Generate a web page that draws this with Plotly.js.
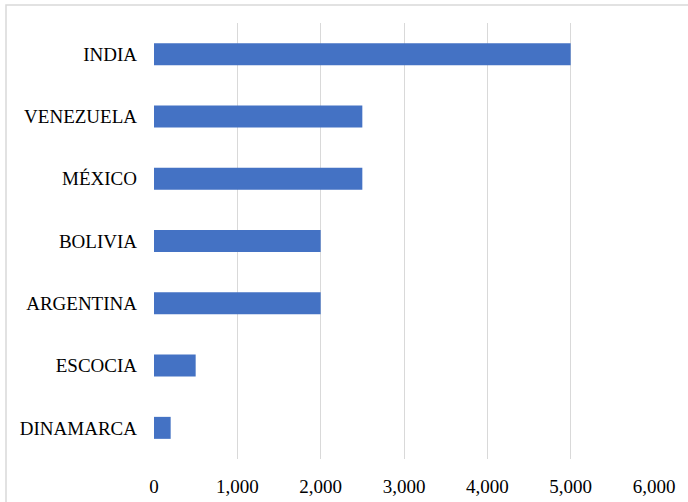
<!DOCTYPE html>
<html>
<head>
<meta charset="utf-8">
<script src="https://cdn.plot.ly/plotly-3.0.1.min.js"></script>
<style>html,body{margin:0;padding:0;background:#fff;}#chart{width:688px;height:502px;}</style>
</head>
<body>
<div id="chart"></div>
<script>
const countries = ["INDIA", "VENEZUELA", "MÉXICO", "BOLIVIA", "ARGENTINA", "ESCOCIA", "DINAMARCA"];
const values = [5000, 2500, 2500, 2000, 2000, 500, 200];
const xTicks = [0, 1000, 2000, 3000, 4000, 5000, 6000];
const xTickLabels = ["0", "1,000", "2,000", "3,000", "4,000", "5,000", "6,000"];

const font = {family: "'Liberation Serif', serif", size: 19, color: "#000"};

Plotly.newPlot("chart", [{
  type: "bar",
  orientation: "h",
  y: countries,
  x: values,
  marker: {color: "#4472C4"},
  hoverinfo: "x+y"
}], {
  width: 688, height: 502,
  margin: {l: 154, r: 34, t: 23, b: 43, pad: 0},
  paper_bgcolor: "#fff", plot_bgcolor: "#fff",
  font: font,
  bargap: 0.647,
  showlegend: false,
  xaxis: {
    range: [0, 6000],
    tickvals: xTicks, ticktext: xTickLabels,
    showgrid: true, gridcolor: "#d9d9d9", gridwidth: 1,
    zeroline: false, showline: false, ticks: "",
    ticklabelstandoff: 14,
    tickfont: font
  },
  yaxis: {
    autorange: "reversed",
    showgrid: false, zeroline: false, showline: false, ticks: "",
    ticklabelstandoff: 16,
    tickfont: font
  },
  shapes: [{
    type: "rect", xref: "paper", yref: "paper",
    x0: -0.296, x1: 1.2, y0: -0.2, y1: 1.0413,
    line: {color: "#d9d9d9", width: 1.5},
    layer: "below"
  }]
}, {displayModeBar: false, staticPlot: true});
</script>
</body>
</html>
